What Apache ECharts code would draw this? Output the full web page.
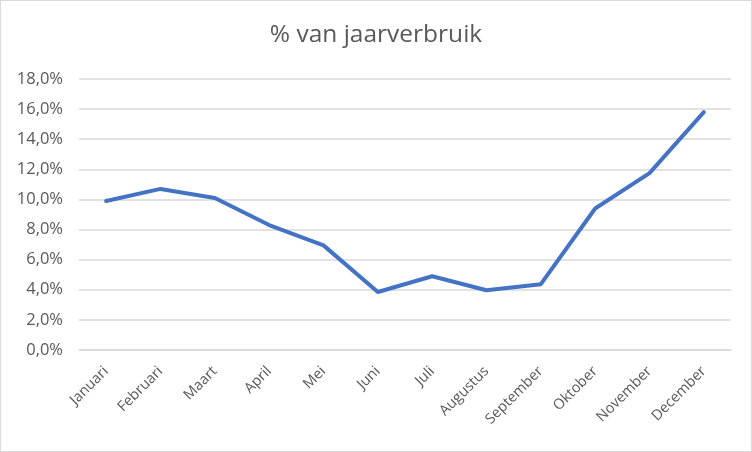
<!DOCTYPE html>
<html><head><meta charset="utf-8">
<script src="https://cdn.jsdelivr.net/npm/echarts@6/dist/echarts.min.js"></script>
<style>html,body{margin:0;padding:0;background:#fff}#c{width:752px;height:452px;box-sizing:border-box;border:1px solid #d9d9d9}</style>
</head><body><div id="c"></div>
<script>
const titleText = "% van jaarverbruik";
const months = ["Januari","Februari","Maart","April","Mei","Juni","Juli","Augustus","September","Oktober","November","December"];
const values = [9.9, 10.7, 10.1, 8.3, 6.95, 3.85, 4.9, 3.97, 4.37, 9.4, 11.75, 15.8];
const yMin = 0, yMax = 18, yStep = 2;

const chart = echarts.init(document.getElementById('c'), null, {renderer:'canvas'});
chart.setOption({
  animation:false,
  title:{text:titleText,left:'center',top:17,textStyle:{fontFamily:'Open Sans',fontSize:24.5,fontWeight:'normal',color:'#595959'}},
  grid:{left:78,right:20,top:78,bottom:101},
  xAxis:{type:'category',data:months,boundaryGap:true,
    axisLine:{show:true,lineStyle:{color:'#d9d9d9',width:1.5}},axisTick:{show:false},
    axisLabel:{rotate:45,interval:0,margin:19,color:'#595959',fontFamily:'Open Sans',fontSize:14.5}},
  yAxis:{type:'value',min:yMin,max:yMax,interval:yStep,
    axisLine:{show:false},axisTick:{show:false},
    splitLine:{lineStyle:{color:'#d9d9d9',width:1.5}},
    axisLabel:{margin:16,color:'#595959',fontFamily:'Open Sans',fontSize:16.5,
      formatter:v=>v.toFixed(1).replace('.',',')+'%'}},
  series:[{type:'line',data:values,symbol:'none',lineStyle:{color:'#4472C4',width:4,join:'round',cap:'round'}}]
});
</script></body></html>
